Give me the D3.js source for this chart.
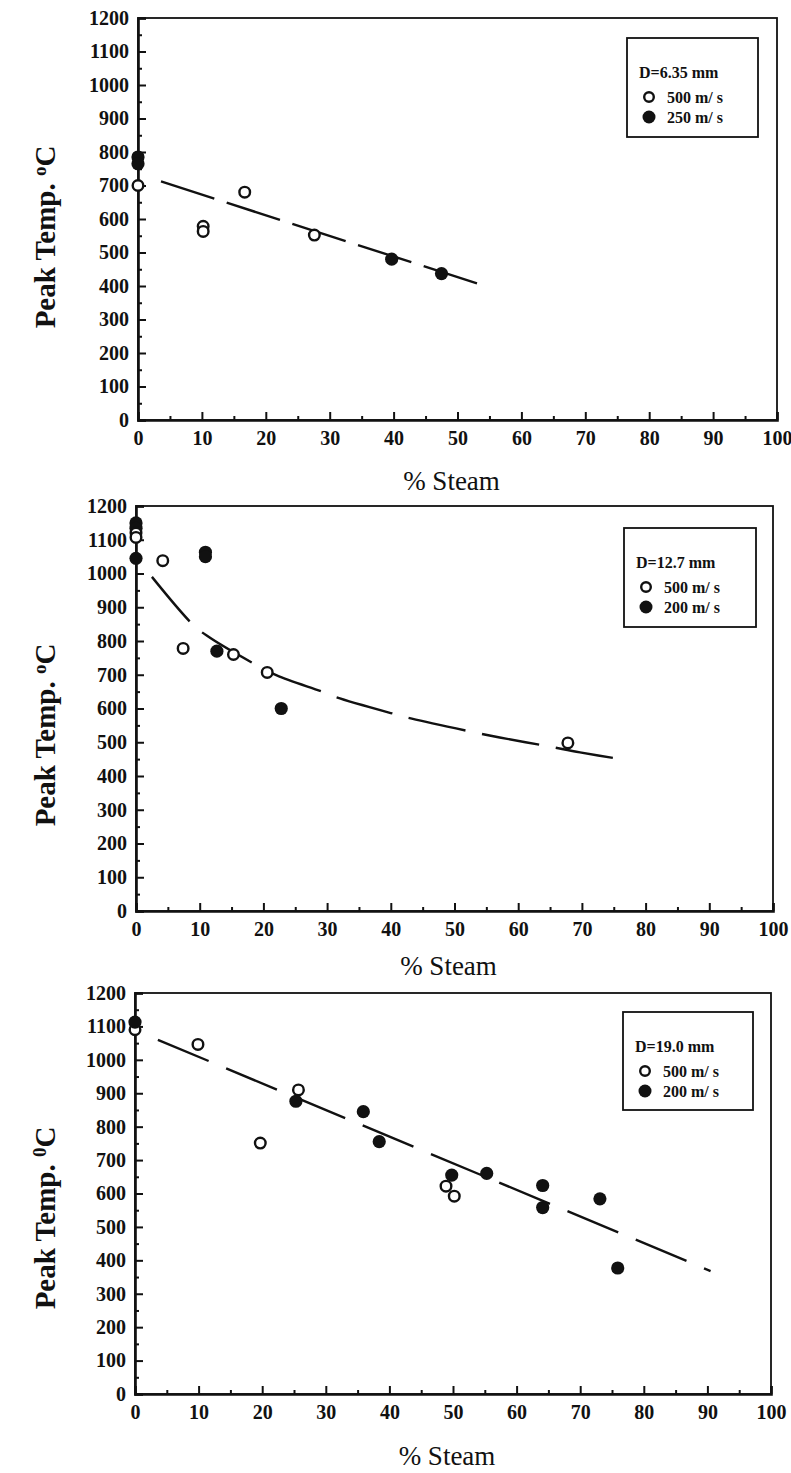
<!DOCTYPE html>
<html>
<head>
<meta charset="utf-8">
<script src="https://cdn.jsdelivr.net/npm/d3@7"></script>
<style>
  html, body { margin: 0; padding: 0; background: #fff; }
  svg { display: block; }
</style>
</head>
<body>
<svg id="chart" width="791" height="1473"></svg>
<script>
// ---------- data ----------
const xTicks = [0, 10, 20, 30, 40, 50, 60, 70, 80, 90, 100];
const yTicks = [0, 100, 200, 300, 400, 500, 600, 700, 800, 900, 1000, 1100, 1200];
const xMinor = [5, 15, 25, 35, 45, 55, 65, 75, 85, 95];
const yMinor = [50, 150, 250, 350, 450, 550, 650, 750, 850, 950, 1050, 1150];

// Panel 1: D = 6.35 mm
const p1Open   = [[0, 700], [10.2, 578], [10.2, 563], [16.7, 680], [27.6, 552]];
const p1Filled = [[0, 785], [0, 765], [39.7, 480], [47.5, 437]];
const p1Fit    = [[3.6, 712], [53.5, 405]];
const p1Legend = ["D=6.35 mm", "500 m/ s", "250 m/ s"];

// Panel 2: D = 12.7 mm
const p2Open   = [[0, 1120], [0, 1107], [4.2, 1038], [7.4, 778], [15.3, 760], [20.6, 707], [67.8, 498]];
const p2Filled = [[0, 1150], [0, 1134], [0, 1045], [10.9, 1063], [10.9, 1050], [12.7, 770], [22.8, 600]];
const p2Fit    = [[2.5, 990], [8.8, 851], [11.1, 816], [18.2, 736], [22.1, 698], [29.2, 650],
                  [31.5, 633], [40.3, 585], [43.3, 570], [53.2, 529], [57.1, 514], [64.7, 488],
                  [69.7, 470], [76.4, 449]];
const p2Legend = ["D=12.7 mm", "500 m/ s", "200 m/ s"];

// Panel 3: D = 19.0 mm
const p3Open   = [[0, 1090], [9.9, 1046], [19.7, 751], [25.7, 910], [48.9, 622], [50.2, 592]];
const p3Filled = [[0, 1113], [25.3, 876], [35.9, 845], [38.4, 755], [49.8, 655], [55.3, 660],
                  [64.1, 624], [64.1, 558], [73.1, 584], [75.9, 377]];
const p3Fit    = [[3.6, 1060], [90.5, 368]];
const p3Legend = ["D=19.0 mm", "500 m/ s", "200 m/ s"];

const yTitleSup = ["o", "o", "0"];
const xTitle = "% Steam";

// ---------- layout ----------
const panels = [
  { open: p1Open, filled: p1Filled, fit: p1Fit, legend: p1Legend, sup: yTitleSup[0],
    left: 138, right: 777, top: 18, bottom: 420, titleY: 237, xTitleY: 481,
    lg: { x: 627, y: 38, w: 131, h: 99 }, openFirst: true, curve: d3.curveLinear, dash: "56,13" },
  { open: p2Open, filled: p2Filled, fit: p2Fit, legend: p2Legend, sup: yTitleSup[1],
    left: 136, right: 773, top: 506, bottom: 911, titleY: 735, xTitleY: 966,
    lg: { x: 624, y: 528, w: 132, h: 99 }, openFirst: false, curve: d3.curveCatmullRom, dash: "58,17" },
  { open: p3Open, filled: p3Filled, fit: p3Fit, legend: p3Legend, sup: yTitleSup[2],
    left: 135, right: 771, top: 993, bottom: 1394, titleY: 1218, xTitleY: 1456,
    lg: { x: 623, y: 1012, w: 130, h: 98 }, openFirst: true, curve: d3.curveLinear, dash: "55,19" }
];

const svg = d3.select("#chart");
svg.append("rect").attr("width", 791).attr("height", 1473).attr("fill", "#fff");

const FONT = "'Liberation Serif', 'Times New Roman', serif";

panels.forEach(p => {
  const x = d3.scaleLinear().domain([0, 100]).range([p.left, p.right]);
  const y = d3.scaleLinear().domain([0, 1200]).range([p.bottom, p.top]);
  const g = svg.append("g");

  // frame
  g.append("rect")
    .attr("x", p.left).attr("y", p.top)
    .attr("width", p.right - p.left).attr("height", p.bottom - p.top)
    .attr("fill", "none").attr("stroke", "#111").attr("stroke-width", 1.8);

  // y axis
  g.append("g").attr("transform", `translate(${p.left},0)`)
    .call(d3.axisLeft(y).tickValues(yTicks).tickSize(-8).tickPadding(9).tickFormat(d3.format("d")));
  g.append("g").attr("transform", `translate(${p.left},0)`)
    .call(d3.axisLeft(y).tickValues(yMinor).tickSize(-4).tickFormat(""))
    .select(".domain").remove();
  // x axis
  g.append("g").attr("transform", `translate(0,${p.bottom})`)
    .call(d3.axisBottom(x).tickValues(xTicks).tickSize(-8).tickPadding(11).tickFormat(d3.format("d")));
  g.append("g").attr("transform", `translate(0,${p.bottom})`)
    .call(d3.axisBottom(x).tickValues(xMinor).tickSize(-4).tickFormat(""))
    .select(".domain").remove();

  g.selectAll(".domain").attr("stroke", "#111").attr("stroke-width", 2.6);
  g.selectAll(".tick line").attr("stroke", "#111").attr("stroke-width", 2);
  g.selectAll(".tick text").attr("font-family", FONT).attr("font-size", 20)
    .attr("font-weight", "bold").attr("fill", "#111");

  // fit line
  const line = d3.line().x(d => x(d[0])).y(d => y(d[1])).curve(p.curve);
  g.append("path").datum(p.fit)
    .attr("d", line).attr("fill", "none").attr("stroke", "#111")
    .attr("stroke-width", 2.4).attr("stroke-dasharray", p.dash);

  // points
  const drawOpen = () => g.append("g").selectAll("circle").data(p.open).join("circle")
    .attr("cx", d => x(d[0])).attr("cy", d => y(d[1])).attr("r", 5.3)
    .attr("fill", "#fff").attr("stroke", "#111").attr("stroke-width", 2.4);
  const drawFilled = () => g.append("g").selectAll("circle").data(p.filled).join("circle")
    .attr("cx", d => x(d[0])).attr("cy", d => y(d[1])).attr("r", 6.6)
    .attr("fill", "#111");
  if (p.openFirst) { drawOpen(); drawFilled(); } else { drawFilled(); drawOpen(); }

  // legend
  const L = p.lg;
  const lg = g.append("g").attr("transform", `translate(${L.x},${L.y})`);
  lg.append("rect").attr("width", L.w).attr("height", L.h)
    .attr("fill", "#fff").attr("stroke", "#111").attr("stroke-width", 1.8);
  lg.append("text").attr("x", 12).attr("y", 34).attr("dy", "0.35em")
    .attr("font-family", FONT).attr("font-size", 16).attr("font-weight", "bold")
    .attr("fill", "#111").text(p.legend[0]);
  [1, 2].forEach((k, i) => {
    const cy = 59 + i * 20;
    if (k === 1) {
      lg.append("circle").attr("cx", 22).attr("cy", cy).attr("r", 4.8)
        .attr("fill", "#fff").attr("stroke", "#111").attr("stroke-width", 2.4);
    } else {
      lg.append("circle").attr("cx", 22).attr("cy", cy).attr("r", 6.5).attr("fill", "#111");
    }
    lg.append("text").attr("x", 40).attr("y", cy).attr("dy", "0.35em")
      .attr("font-family", FONT).attr("font-size", 16).attr("font-weight", "bold")
      .attr("fill", "#111").text(p.legend[k]);
  });

  // y title
  const yt = g.append("text")
    .attr("transform", `translate(45,${p.titleY}) rotate(-90)`)
    .attr("text-anchor", "middle").attr("dy", "0.35em")
    .attr("font-family", FONT).attr("font-size", 29).attr("font-weight", "bold")
    .attr("fill", "#111");
  yt.append("tspan").text("Peak Temp. ");
  yt.append("tspan").attr("baseline-shift", "45%").attr("font-size", 19).text(p.sup);
  yt.append("tspan").text("C");

  // x title
  g.append("text").attr("x", (p.left + p.right) / 2 - 6).attr("y", p.xTitleY).attr("dy", "0.35em")
    .attr("text-anchor", "middle").attr("font-family", FONT).attr("font-size", 27)
    .attr("fill", "#111").text(xTitle);
});
</script>
</body>
</html>
